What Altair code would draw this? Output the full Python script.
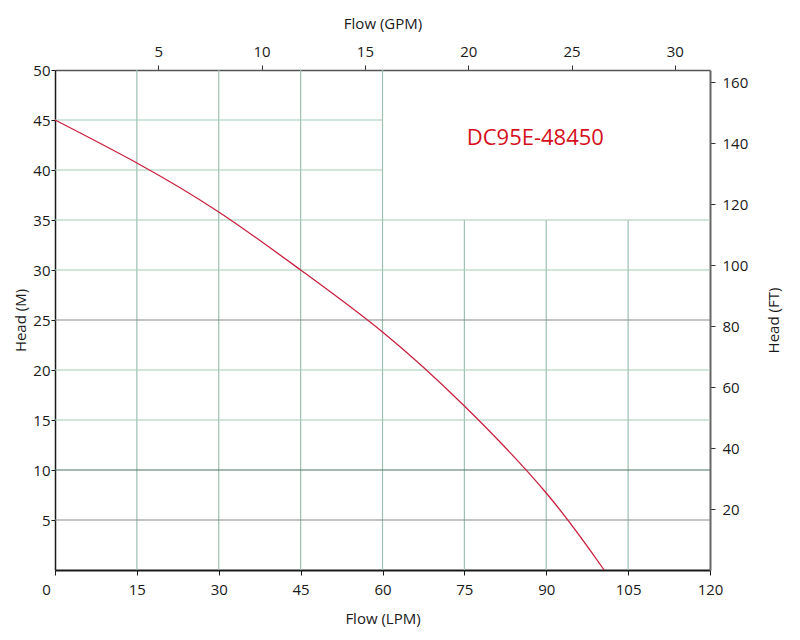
import altair as alt
import pandas as pd

# ---- data ----
flow_lpm = [0, 15, 30, 45, 60, 75, 90, 100.6]
head_m   = [45, 40.7, 35.8, 30.0, 23.8, 16.4, 7.7, 0]

lpm_ticks = [0, 15, 30, 45, 60, 75, 90, 105, 120]
m_ticks = [5, 10, 15, 20, 25, 30, 35, 40, 45, 50]
gpm_ticks = [5, 10, 15, 20, 25, 30]
ft_ticks = [20, 40, 60, 80, 100, 120, 140, 160]

# grid lines (tick values and their extents)
v_grid_full = [15, 30, 45, 60]
v_grid_part = [75, 90, 105]
h_grid_full = [5, 10, 15, 20, 25, 30, 35]
h_grid_part = [40, 45]

label_text = ["DC95E-48450"]
label_lpm = [88]
label_m = [43.2]

LPM_MAX = 120
M_MAX = 50
GPM_PER_LPM = 1 / 3.78541
FT_PER_M = 3.28084

FONT = "Open Sans"
LBL = 15
TTL = 15

curve = pd.DataFrame({"lpm": flow_lpm, "m": head_m})
vgrid = pd.DataFrame(
    [{"lpm": v, "m0": 0, "m1": M_MAX} for v in v_grid_full]
    + [{"lpm": v, "m0": 0, "m1": 35} for v in v_grid_part]
)
hgrid = pd.DataFrame(
    [{"m": h, "l0": 0, "l1": LPM_MAX} for h in h_grid_full]
    + [{"m": h, "l0": 0, "l1": 60} for h in h_grid_part]
)
labels = pd.DataFrame({"lpm": label_lpm, "m": label_m, "t": label_text})

xscale = alt.Scale(domain=[0, LPM_MAX], nice=False, zero=False)
yscale = alt.Scale(domain=[0, M_MAX], nice=False, zero=False)

xaxis = alt.Axis(
    title="Flow (LPM)", values=lpm_ticks, grid=False, orient="bottom",
    domainColor="#1a1a1a", domainWidth=2, tickColor="#1a1a1a", tickSize=5,
    labelPadding=7, labelFontSize=LBL, labelColor="#1a1a1a", labelFont=FONT,
    titleFont=FONT, titleFontSize=TTL, titleFontWeight="normal", titleColor="#1a1a1a",
    titlePadding=14, labelFlush=False, labelAlign="center",
    labelOffset=alt.ExprRef("datum.value == 0 ? -9 : 0"),
)
yaxis = alt.Axis(
    title="Head (M)", values=m_ticks, grid=False, orient="left",
    domainColor="#1a1a1a", domainWidth=1.5, tickColor="#1a1a1a", tickSize=4,
    labelPadding=1, labelFontSize=LBL, labelColor="#1a1a1a", labelFont=FONT,
    titleFont=FONT, titleFontSize=TTL, titleFontWeight="normal", titleColor="#1a1a1a",
    titlePadding=4, labelFlush=False,
)

grid_color = (
    alt.when("datum.m == 10").then(alt.value("#4d7565"))
    .when("datum.m == 5 || datum.m == 25").then(alt.value("#858d88"))
    .otherwise(alt.value("#a3cbb6"))
)

h_rules = alt.Chart(hgrid).mark_rule(strokeWidth=1.2).encode(
    x=alt.X("l0:Q", scale=xscale, axis=xaxis),
    x2="l1:Q",
    y=alt.Y("m:Q", scale=yscale, axis=yaxis),
    color=grid_color,
)
v_rules = alt.Chart(vgrid).mark_rule(strokeWidth=1.2, color="#9dbfb0").encode(
    x=alt.X("lpm:Q", scale=xscale, axis=xaxis),
    y=alt.Y("m0:Q", scale=yscale, axis=yaxis),
    y2="m1:Q",
)
line = alt.Chart(curve).mark_line(color="#c8203f", strokeWidth=1.3, interpolate="natural").encode(
    x=alt.X("lpm:Q", scale=xscale, axis=xaxis),
    y=alt.Y("m:Q", scale=yscale, axis=yaxis),
)
text = alt.Chart(labels).mark_text(color="#d4101e", fontSize=22, font=FONT, align="center", baseline="middle").encode(
    x=alt.X("lpm:Q", scale=xscale, axis=xaxis),
    y=alt.Y("m:Q", scale=yscale, axis=yaxis),
    text="t:N",
)
main = alt.layer(v_rules, h_rules, line, text)

top_df = pd.DataFrame({"gpm": [0, LPM_MAX * GPM_PER_LPM]})
top = alt.Chart(top_df).mark_point(opacity=0).encode(
    x=alt.X("gpm:Q", scale=alt.Scale(domain=[0, LPM_MAX * GPM_PER_LPM], nice=False, zero=False),
            axis=alt.Axis(title="Flow (GPM)", orient="top", values=gpm_ticks, grid=False,
                          domainColor="#555555", domainWidth=1.5, tickColor="#333333", tickSize=5,
                          labelPadding=6, labelFontSize=LBL, labelColor="#1a1a1a", labelFont=FONT,
                          titleFont=FONT, titleFontSize=TTL, titleFontWeight="normal",
                          titleColor="#1a1a1a", titlePadding=13, labelFlush=False)),
)
right_df = pd.DataFrame({"ft": [0, M_MAX * FT_PER_M]})
right = alt.Chart(right_df).mark_point(opacity=0).encode(
    y=alt.Y("ft:Q", scale=alt.Scale(domain=[0, M_MAX * FT_PER_M], nice=False, zero=False),
            axis=alt.Axis(title="Head (FT)", orient="right", values=ft_ticks, grid=False,
                          domainColor="#666666", domainWidth=2, tickColor="#333333", tickSize=5,
                          labelPadding=7, labelFontSize=LBL, labelColor="#1a1a1a", labelFont=FONT,
                          titleFont=FONT, titleFontSize=TTL, titleFontWeight="normal",
                          titleColor="#1a1a1a", titlePadding=34, titleAngle=270, labelFlush=False)),
)

chart = alt.layer(main, top, right).resolve_scale(x="independent", y="independent").properties(
    width=655, height=500,
    autosize=alt.AutoSizeParams(type="none"),
    padding={"left": 47, "top": 62, "right": 80, "bottom": 60},
    background="white",
).configure_view(stroke=None)

chart.save("out.html", embed_options={"renderer": "svg", "actions": False})
